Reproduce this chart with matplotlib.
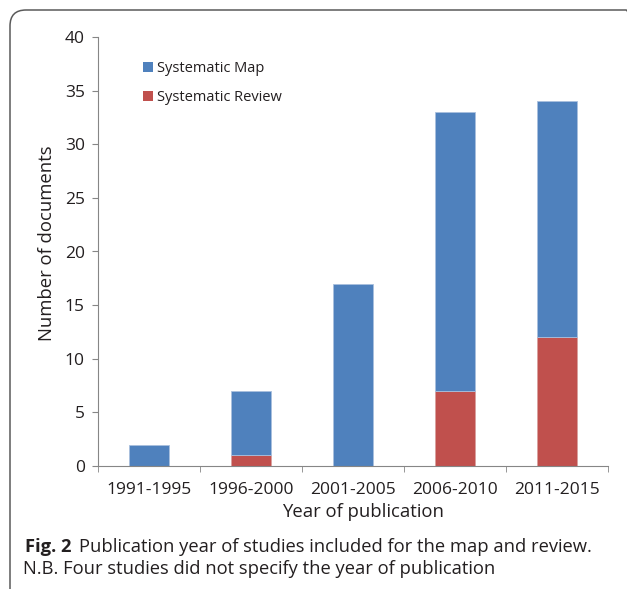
import matplotlib.pyplot as plt
from matplotlib.patches import FancyBboxPatch, Patch

# Dados
periodos = ['1991-1995', '1996-2000', '2001-2005', '2006-2010', '2011-2015']
revisao = [0, 1, 0, 7, 12]   # Systematic Review
mapa = [2, 6, 17, 26, 22]    # Systematic Map (acima da revisão)

azul = '#4F81BD'
vermelho = '#C0504D'
cinza = '#868686'
texto = '#231F20'

plt.rcParams['font.family'] = ['Open Sans', 'DejaVu Sans']

fig = plt.figure(figsize=(6.27, 5.89), dpi=100)
W, H = 627, 589

# Moldura arredondada (em polegadas, para os cantos ficarem redondos)
moldura = FancyBboxPatch((0.10, -0.25), 6.32, (H - 10) / 100 + 0.25,
                         boxstyle='round,pad=0,rounding_size=0.16',
                         transform=fig.dpi_scale_trans, fill=False,
                         edgecolor='#5A5A5A', linewidth=1.1)
fig.patches.append(moldura)

ax = fig.add_axes([98 / W, 1 - 466 / H, (608 - 98) / W, (466 - 37) / H])
x = range(len(periodos))
ax.bar(x, revisao, width=0.4, color=vermelho, edgecolor='#D9A09E', linewidth=0.6)
ax.bar(x, mapa, width=0.4, bottom=revisao, color=azul, edgecolor='#A9C0DE', linewidth=0.6)

ax.set_xlim(-0.5, len(periodos) - 0.5)
ax.set_ylim(0, 40)
ax.set_yticks(range(0, 41, 5))
ax.set_xticks(x)
ax.set_xticklabels(periodos)
# ticks de separação entre categorias
ax.set_xticks([i - 0.5 for i in range(len(periodos) + 1)], minor=True)
ax.tick_params(axis='x', which='major', length=0, labelsize=12.5, pad=11.5, labelcolor=texto)
ax.tick_params(axis='x', which='minor', length=4.5, color=cinza, direction='out')
ax.tick_params(axis='y', length=4.5, color=cinza, labelsize=12.5, pad=5, labelcolor=texto)

for lado in ['top', 'right']:
    ax.spines[lado].set_visible(False)
ax.spines['left'].set_color(cinza)
ax.spines['bottom'].set_color(cinza)

ax.set_xlabel('Year of publication', fontsize=13.3, color=texto)
ax.xaxis.set_label_coords(0.52, -0.086)
ax.set_ylabel('Number of documents', fontsize=13.3, color=texto)
ax.yaxis.set_label_coords(-0.083, 0.52)

legenda = [Patch(facecolor=azul, label='Systematic Map'),
           Patch(facecolor=vermelho, label='Systematic Review')]
ax.legend(handles=legenda, loc='upper left', bbox_to_anchor=(0.062, 0.975),
          frameon=False, fontsize=10.5, handlelength=0.7, handleheight=0.7,
          handletextpad=0.3, labelspacing=1.0, labelcolor=texto)

# Legenda da figura
fig.text(25 / W, 1 - 552 / H, 'Fig. 2', fontsize=13.2, fontweight='bold',
         color=texto, va='baseline')
fig.text(79 / W, 1 - 552 / H, 'Publication year of studies included for the map and review.',
         fontsize=13.2, color=texto, va='baseline')
fig.text(23 / W, 1 - 574 / H, 'N.B. Four studies did not specify the year of publication',
         fontsize=13.2, color=texto, va='baseline')

fig.savefig('out.png', dpi=100)
